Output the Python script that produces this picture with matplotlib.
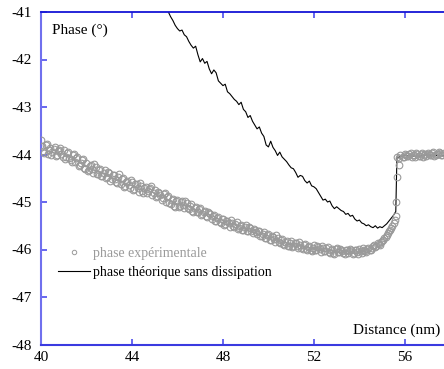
import numpy as np
import matplotlib
matplotlib.use("Agg")
import matplotlib.pyplot as plt
from matplotlib.lines import Line2D

plt.rcParams['font.family'] = ['Liberation Serif', 'DejaVu Serif']

# ---------------- data ----------------
exp_x = [round(40.0 + 0.1 * i, 2) for i in range(156)] + \
        [55.55, 55.6, 55.62, 55.64, 55.66, 55.72, 55.75, 55.8, 55.9] + \
        [round(56.0 + 0.1 * i, 2) for i in range(18)]
exp_y = [
    -43.70, -43.92, -43.80, -43.98, -43.86,
    -43.95, -43.84, -44.02, -43.90, -43.99,
    -43.90, -44.06, -43.95, -44.12, -44.00,
    -44.15, -44.05, -44.22, -44.12, -44.28,
    -44.18, -44.32, -44.22, -44.38, -44.27,
    -44.40, -44.30, -44.45, -44.33, -44.48,
    -44.38, -44.52, -44.44, -44.58, -44.47,
    -44.62, -44.50, -44.66, -44.55, -44.70,
    -44.58, -44.72, -44.63, -44.78, -44.66,
    -44.80, -44.68, -44.76, -44.70, -44.85,
    -44.74, -44.88, -44.80, -44.95, -44.84,
    -45.00, -44.88, -45.05, -44.93, -45.10,
    -44.95, -45.08, -44.98, -45.12, -45.03,
    -45.15, -45.05, -45.20, -45.10, -45.22,
    -45.12, -45.25, -45.18, -45.32, -45.24,
    -45.36, -45.27, -45.40, -45.32, -45.45,
    -45.35, -45.47, -45.40, -45.52, -45.44,
    -45.52, -45.42, -45.55, -45.48, -45.58,
    -45.48, -45.60, -45.55, -45.66, -45.58,
    -45.68, -45.60, -45.72, -45.64, -45.76,
    -45.68, -45.80, -45.73, -45.85, -45.76,
    -45.86, -45.77, -45.90, -45.82, -45.93,
    -45.83, -45.93, -45.87, -45.97, -45.90,
    -45.98, -45.89, -46.00, -45.93, -46.03,
    -45.90, -46.00, -45.94, -46.05, -45.97,
    -46.03, -45.95, -46.07, -45.99, -46.10,
    -45.96, -46.06, -46.00, -46.08, -46.02,
    -46.07, -45.98, -46.09, -46.01, -46.06,
    -45.98, -46.07, -46.00, -46.05, -45.96,
    -46.00, -45.92, -45.95, -45.86, -45.90,
    -45.82, -45.75, -45.70, -45.62, -45.55, -45.45,
    -45.38, -45.30, -45.00, -44.47, -44.05, -44.23, -44.08, -44.02, -44.05,
    -43.99, -44.04, -43.98, -44.06, -44.00, -43.97, -44.03, -43.98, -44.05,
    -43.99, -43.96, -44.02, -43.97, -44.03, -43.98, -43.95, -44.01, -43.97,
]

# second, interleaved set of experimental samples
exp2_x = [round(40.05 + 0.1 * i, 2) for i in range(155)] + \
         [round(55.95 + 0.1 * i, 2) for i in range(18)]
exp2_y = [
    -43.82, -43.96, -43.78, -43.90, -44.00,
    -43.88, -44.03, -43.93, -43.86, -44.05,
    -44.10, -43.97, -44.08, -44.15, -43.98,
    -44.08, -44.25, -44.18, -44.10, -44.30,
    -44.35, -44.24, -44.30, -44.20, -44.40,
    -44.33, -44.46, -44.38, -44.50, -44.36,
    -44.55, -44.43, -44.51, -44.60, -44.42,
    -44.52, -44.68, -44.58, -44.65, -44.53,
    -44.74, -44.62, -44.70, -44.60, -44.76,
    -44.70, -44.82, -44.73, -44.66, -44.80,
    -44.90, -44.78, -44.86, -44.92, -44.80,
    -44.90, -45.02, -44.96, -45.08, -44.98,
    -45.10, -45.00, -45.06, -44.98, -45.12,
    -45.08, -45.18, -45.12, -45.20, -45.14,
    -45.28, -45.20, -45.30, -45.22, -45.26,
    -45.30, -45.40, -45.34, -45.42, -45.36,
    -45.48, -45.40, -45.45, -45.38, -45.50,
    -45.46, -45.56, -45.50, -45.58, -45.52,
    -45.62, -45.52, -45.60, -45.56, -45.64,
    -45.62, -45.72, -45.68, -45.75, -45.70,
    -45.80, -45.72, -45.78, -45.70, -45.84,
    -45.80, -45.88, -45.84, -45.92, -45.86,
    -45.94, -45.86, -45.92, -45.84, -45.96,
    -45.90, -45.98, -45.94, -46.02, -45.96,
    -46.02, -45.93, -45.99, -45.92, -46.04,
    -45.96, -46.05, -46.00, -46.08, -45.98,
    -46.05, -45.98, -46.04, -46.10, -46.00,
    -46.04, -46.00, -46.08, -46.02, -46.10,
    -46.03, -45.97, -46.04, -45.98, -46.02,
    -45.96, -45.90, -45.93, -45.88, -45.84,
    -45.80, -45.74, -45.66, -45.58, -45.50,
    -44.06, -44.00, -44.04, -43.97, -44.02, -44.05, -43.99, -44.03, -43.96,
    -44.01, -44.04, -43.98, -44.00, -43.95, -44.02, -43.99, -43.97, -44.00,
]

theo_x = [round(45.5 + 0.1 * i, 2) for i in range(102)] + [55.65, 55.7, 56.0, 56.5, 57.0, 57.7]
theo_y = [
    -40.90, -41.00, -41.10, -41.18, -41.28,
    -41.35, -41.40, -41.38, -41.48, -41.52,
    -41.62, -41.70, -41.76, -41.72, -41.90,
    -42.05, -41.98, -42.08, -42.04, -42.20,
    -42.30, -42.22, -42.28, -42.45, -42.50,
    -42.55, -42.52, -42.68, -42.72, -42.78,
    -42.84, -42.88, -42.95, -42.90, -43.05,
    -43.10, -43.22, -43.18, -43.30, -43.38,
    -43.46, -43.42, -43.55, -43.62, -43.80,
    -43.84, -43.72, -43.85, -43.92, -44.02,
    -43.95, -44.05, -44.10, -44.15, -44.22,
    -44.28, -44.30, -44.38, -44.48, -44.44,
    -44.46, -44.55, -44.60, -44.56, -44.66,
    -44.68, -44.72, -44.80, -44.88, -44.96,
    -44.94, -45.00, -44.98, -45.08, -45.14,
    -45.10, -45.14, -45.18, -45.20, -45.26,
    -45.24, -45.30, -45.28, -45.36, -45.40,
    -45.38, -45.44, -45.46, -45.50, -45.48,
    -45.52, -45.54, -45.50, -45.55, -45.52,
    -45.54, -45.50, -45.46, -45.40, -45.34, -45.28, -45.20,
    -44.05, -44.06, -44.02, -44.04, -44.01, -44.03,
]

x_ticks = [40, 44, 48, 52, 56]
y_ticks = [-48, -47, -46, -45, -44, -43, -42, -41]

label_exp = "phase expérimentale"
label_theo = "phase théorique sans dissipation"

# ---------------- figure ----------------
W, H = 444, 369
fig = plt.figure(figsize=(W / 100, H / 100), dpi=100)
ax = fig.add_axes([41 / W, 1 - 344.5 / H, 1 - 41 / W, (344.5 - 12) / H])

gray = '#9a9a9a'
ax.plot(theo_x, theo_y, color='black', lw=0.8, zorder=2)
ax.plot(exp_x + exp2_x, exp_y + exp2_y, linestyle='none', marker='o', markersize=4.8,
        markerfacecolor='none', markeredgecolor=gray, markeredgewidth=0.8, zorder=3)

ax.set_xlim(40, 57.72)
ax.set_ylim(-48, -41)
ax.set_xticks(x_ticks)
ax.set_yticks(y_ticks)
ax.set_xticklabels([str(v) for v in x_ticks])
ax.set_yticklabels([str(v) for v in y_ticks])

ax.tick_params(axis='both', direction='in', length=4, width=1.3, colors='#5a5aee',
               labelcolor='black', labelsize=11)
ax.tick_params(axis='x', top=True, pad=5)
ax.tick_params(axis='y', pad=6.5)

ax.spines['right'].set_visible(False)
ax.spines['left'].set_color('#7070ee')
ax.spines['left'].set_linewidth(1.5)
ax.spines['bottom'].set_color('#3a3ae0')
ax.spines['bottom'].set_linewidth(1.5)
ax.spines['top'].set_color('#1515d5')
ax.spines['top'].set_linewidth(1.3)

fig.text(52 / W, 1 - 30 / H, "Phase (°)", fontsize=11, ha='left', va='center')
fig.text(440 / W, 1 - 330 / H, "Distance (nm)", fontsize=11, ha='right', va='center')

h1 = Line2D([], [], linestyle='none', marker='o', markersize=3.2,
            markerfacecolor='none', markeredgecolor=gray, markeredgewidth=0.7)
h2 = Line2D([], [], color='black', lw=0.8)
leg = ax.legend([h1, h2], [label_exp, label_theo], loc='center left',
                bbox_to_anchor=(58 / W, 1 - 263 / H), bbox_transform=fig.transFigure,
                frameon=False, fontsize=10, handlelength=2.3, handletextpad=0.25,
                labelspacing=0.45, borderpad=0, borderaxespad=0)
leg.get_texts()[0].set_color(gray)

fig.savefig('out.png', dpi=100)
